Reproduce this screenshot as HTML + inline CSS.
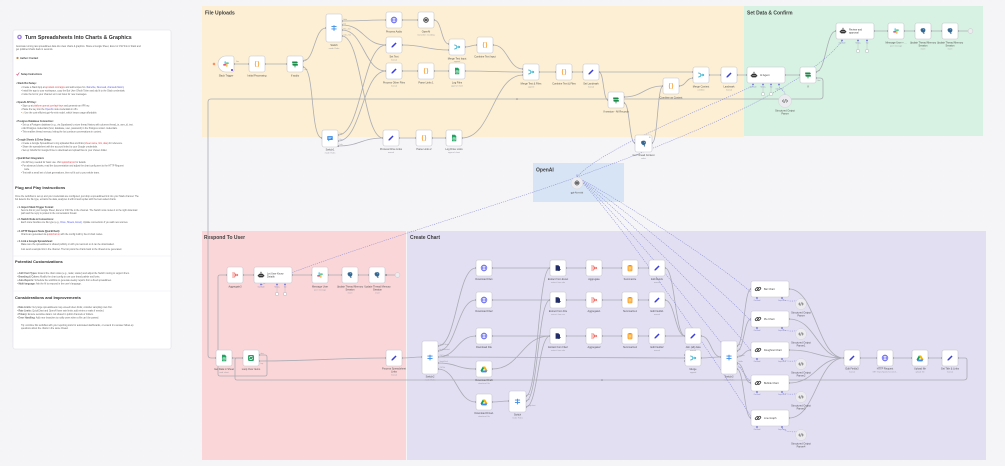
<!DOCTYPE html>
<html><head><meta charset="utf-8">
<style>
html,body{margin:0;padding:0;background:#f5f5f8;}
svg{display:block}
svg text{font-family:"Liberation Sans",sans-serif;}
.b{fill:#fff;stroke:#c6c6ce;stroke-width:.6}
.l{font-size:2.5px;fill:#555;text-anchor:middle}
.s{font-size:1.9px;fill:#9a9aa2;text-anchor:middle}
.t{font-size:5px;font-weight:bold;fill:#3f3f3f}
.c{fill:none;stroke:#abacb4;stroke-width:.8}
.d{fill:none;stroke:#8b8ed2;stroke-width:.55;stroke-dasharray:1.2 1}
.p{fill:#8c8c94}
.q{fill:#6f73d0}
.sq{fill:#fff;stroke:#a8a8b0;stroke-width:.4}
.pl{font-size:1.3px;fill:#8080b8;text-anchor:middle}
.ol{font-size:1.4px;fill:#999}
.in{font-size:2.5px;fill:#444}
.nt{font-size:2.3px;fill:#666}
.nb{font-size:2.4px;fill:#444;font-weight:bold}
.nh{font-size:4px;fill:#3a3a3a;font-weight:bold}
.r{fill:#e0454f}.u{fill:#5658e0}
</style></head>
<body>
<svg width="1005" height="466" viewBox="0 0 1005 466" xmlns="http://www.w3.org/2000/svg">
<defs>
<pattern id="grid" width="10" height="10" patternUnits="userSpaceOnUse"><circle cx="1" cy="1" r=".35" fill="#e3e3ea"/></pattern>
<symbol id="pen" viewBox="0 0 10 10"><path d="M1.8 8.2 L2.1 6.6 L6.9 1.8 L8.2 3.1 L3.4 7.9 Z" fill="#3b3fd8"/></symbol>
<symbol id="glb" viewBox="0 0 10 10"><g fill="none" stroke="#5a5cf0" stroke-width=".8"><circle cx="5" cy="5" r="3.6"/><ellipse cx="5" cy="5" rx="1.6" ry="3.6"/><path d="M1.4 5H8.6"/></g></symbol>
<symbol id="cod" viewBox="0 0 10 10"><g fill="none" stroke="#f5941f" stroke-width=".9" stroke-linecap="round"><path d="M4 1.8 Q3 1.8 3 2.8 V4.2 Q3 5 2.2 5 Q3 5 3 5.8 V7.2 Q3 8.2 4 8.2"/><path d="M6 1.8 Q7 1.8 7 2.8 V4.2 Q7 5 7.8 5 Q7 5 7 5.8 V7.2 Q7 8.2 6 8.2"/></g></symbol>
<symbol id="swi" viewBox="0 0 10 10"><g fill="none" stroke="#3d8de8" stroke-width="1.1"><path d="M1.8 3.2H8.2M1.8 6.2H8.2M5 1.6V8.6"/></g></symbol>
<symbol id="msg" viewBox="0 0 10 10"><path d="M1.6 2H8.4V6.8H4.6L2.8 8.4V6.8H1.6Z" fill="#3d8de8"/><path d="M3 3.6H7M3 5.2H6" stroke="#fff" stroke-width=".6"/></symbol>
<symbol id="iff" viewBox="0 0 10 10"><g fill="#1d8a4a"><path d="M1.5 1.8H7.5L8.6 3L7.5 4.2H1.5Z"/><path d="M2.5 4.8H8.5V7H2.5L1.4 5.9Z"/><rect x="4.5" y="6.8" width="1" height="2.4"/></g></symbol>
<symbol id="mrg" viewBox="0 0 10 10"><g fill="none" stroke="#1ea6c6" stroke-width=".9"><path d="M1.5 2.5 Q4.5 2.5 5 5 Q4.5 7.5 1.5 7.5M5 5H8.5M7 3.6L8.5 5L7 6.4"/></g></symbol>
<symbol id="sht" viewBox="0 0 10 10"><path d="M2.5 1H6.2L7.8 2.6V9H2.5Z" fill="#21a362"/><path d="M3.6 4.5H6.7V7.6H3.6ZM3.6 6H6.7M5.1 4.5V7.6" fill="none" stroke="#fff" stroke-width=".5"/></symbol>
<symbol id="pg" viewBox="0 0 10 10"><path d="M2 3.5 Q2 1.5 4.5 1.5 Q8 1.2 8 4 Q8 6 6.5 6.5 L6.8 8.8 L5.6 8.8 L5.3 6.8 Q3.5 7 3 6 Q2 5.5 2 3.5Z" fill="#336791"/><circle cx="6" cy="3.4" r=".45" fill="#fff"/></symbol>
<symbol id="slk" viewBox="0 0 10 10"><rect x="3.2" y="1.5" width="1.5" height="3.6" rx=".75" fill="#36c5f0"/><rect x="4.9" y="3.2" width="3.6" height="1.5" rx=".75" fill="#2eb67d"/><rect x="5.3" y="4.9" width="1.5" height="3.6" rx=".75" fill="#ecb22e"/><rect x="1.5" y="5.3" width="3.6" height="1.5" rx=".75" fill="#e01e5a"/></symbol>
<symbol id="oai" viewBox="0 0 10 10"><g fill="none" stroke="#333" stroke-width=".8"><circle cx="5" cy="5" r="3"/><path d="M5 2 L5 8 M2.4 3.5 L7.6 6.5 M2.4 6.5 L7.6 3.5"/></g></symbol>
<symbol id="bot" viewBox="0 0 10 10"><g fill="#333"><rect x="2" y="3.5" width="6" height="4.5" rx="1.2"/><rect x="4.6" y="1.6" width=".8" height="2"/><circle cx="5" cy="1.6" r=".6"/><rect x="1" y="4.8" width="1.2" height="2" rx=".4"/><rect x="7.8" y="4.8" width="1.2" height="2" rx=".4"/></g><circle cx="3.8" cy="5.6" r=".6" fill="#fff"/><circle cx="6.2" cy="5.6" r=".6" fill="#fff"/></symbol>
<symbol id="agg" viewBox="0 0 10 10"><g fill="none" stroke="#f0574e" stroke-width=".9"><path d="M1.5 2.5H4.5L6 5L4.5 7.5H1.5M1.5 5H8.5M7.2 3.8L8.5 5L7.2 6.2"/></g></symbol>
<symbol id="sum" viewBox="0 0 10 10"><rect x="2.3" y="1.8" width="5.4" height="7" rx=".8" fill="#ffb23f" stroke="#f08a17" stroke-width=".5"/><rect x="3.8" y="1.2" width="2.4" height="1.3" rx=".4" fill="#f08a17"/><path d="M3.5 4.5H6.5M3.5 6H6.5M3.5 7.5H5.5" stroke="#fff" stroke-width=".5"/></symbol>
<symbol id="ext" viewBox="0 0 10 10"><path d="M2 1.5H5.5L7.5 3.5V8.5H2Z" fill="#232e68"/><path d="M5 5 L8.8 7 L5 8.8 Z" fill="#232e68"/></symbol>
<symbol id="drv" viewBox="0 0 10 10"><path d="M3.6 1.8H6.4L9.3 6.8H6.5Z" fill="#f4b400"/><path d="M3.6 1.8L0.7 6.8L2.1 9.2L5 4.2Z" fill="#0f9d58"/><path d="M2.1 9.2H7.9L9.3 6.8H3.5Z" fill="#4285f4"/></symbol>
<symbol id="lnk" viewBox="0 0 10 10"><g fill="none" stroke="#3a3a3a" stroke-width="1"><rect x="1.3" y="3.8" width="4.6" height="2.6" rx="1.3" transform="rotate(-45 3.6 5.1)"/><rect x="4.1" y="3.6" width="4.6" height="2.6" rx="1.3" transform="rotate(-45 6.4 4.9)"/></g></symbol>
<symbol id="lop" viewBox="0 0 10 10"><rect x="1.3" y="1.3" width="7.4" height="7.4" rx="1.6" fill="#2a9d63"/><g fill="none" stroke="#fff" stroke-width=".8"><path d="M3 5 A2 2 0 0 1 6.6 3.8M7 5 A2 2 0 0 1 3.4 6.2"/></g><path d="M6 2.8L7.3 3.6L6.3 4.6Z M4 7.2L2.7 6.4L3.7 5.4Z" fill="#fff"/></symbol>
<symbol id="par" viewBox="0 0 10 10"><g fill="none" stroke="#555" stroke-width=".8"><path d="M3.5 3.2L1.8 5L3.5 6.8M6.5 3.2L8.2 5L6.5 6.8M5.6 2.8L4.4 7.2"/></g></symbol>
</defs>

<rect width="1005" height="466" fill="#f5f5f8"/>
<rect width="1005" height="466" fill="url(#grid)"/>

<!-- Sections -->
<rect x="202" y="6" width="542" height="131" fill="#fcefd3"/>
<rect x="744" y="6" width="239" height="130" fill="#d7f2e2"/>
<rect x="533" y="163" width="91" height="39" fill="#d6e4f5"/>
<rect x="202" y="231" width="204" height="229" fill="#fad6d8"/>
<rect x="407" y="231" width="579" height="229" fill="#e2dff3"/>
<text class="t" x="205" y="14.5">File Uploads</text>
<text class="t" x="747" y="14.5">Set Data &amp; Confirm</text>
<text class="t" x="536" y="171.5">OpenAI</text>
<text class="t" x="204" y="239">Respond To User</text>
<text class="t" x="410" y="239">Create Chart</text>

<!-- Sticky note -->
<rect x="13" y="30" width="158" height="319" rx="2" fill="#fff" stroke="#dfe0e7" stroke-width=".6"/>
<circle cx="19.5" cy="37" r="2.3" fill="#9b7fe0"/><circle cx="19.5" cy="37" r="1" fill="#fff"/>
<text x="25" y="39" style="font-size:5.3px;fill:#333;font-weight:600">Turn Spreadsheets Into Charts &amp; Graphics</text>
<text class="nt" x="16" y="47">Automate turning raw spreadsheet data into clear charts &amp; graphics. Share a Google Sheet, Excel or CSV link in Slack and</text>
<text class="nt" x="16" y="50">get polished charts back in seconds.</text>
<circle cx="17.5" cy="58" r="1.1" fill="#c98a4b"/>
<text class="nb" x="20" y="59">Author: Contact</text>
<path d="M16.5 74 L17.5 75.2 L19.3 72.6" fill="none" stroke="#e0457f" stroke-width=".6"/>
<text class="nb" x="21" y="75">Setup Instructions</text>

<text class="nb" x="16" y="84">• Slack Bot Setup:</text>
<text class="nt" x="21" y="88">• Create a Slack App at <tspan class="r">api.slack.com/apps</tspan> and add scopes for <tspan class="u">chat:write, files:read, channels:history</tspan></text>
<text class="nt" x="21" y="91.5">• Install the app to your workspace, copy the Bot User OAuth Token and add it to the Slack credentials.</text>
<text class="nt" x="21" y="95">• Invite the bot to your channel so it can listen for new messages.</text>
<text class="nb" x="16" y="103">• OpenAI API Key:</text>
<text class="nt" x="21" y="106.5">• Sign up at <tspan class="r">platform.openai.com/api-keys</tspan> and generate an API key.</text>
<text class="nt" x="21" y="110">• Paste the key into the <tspan class="u">OpenAI</tspan> node credentials in n8n.</text>
<text class="nt" x="21" y="113.5">• <tspan fill="#e8a23a">●</tspan> Use the cost-efficient gpt-4o-mini model, which keeps usage affordable.</text>
<text class="nb" x="16" y="122">• Postgres Database Connection:</text>
<text class="nt" x="21" y="125.5">• Set up a Postgres database (e.g., via Supabase) to store thread history with columns thread_ts, user_id, text.</text>
<text class="nt" x="21" y="129">• Add Postgres credentials (host, database, user, password) in the Postgres nodes' credentials.</text>
<text class="nt" x="21" y="132.5">• This enables thread memory, letting the bot continue conversations in context.</text>
<text class="nb" x="16" y="140.5">• Google Sheets &amp; Drive Setup:</text>
<text class="nt" x="21" y="144">• Create a Google Spreadsheet to log uploaded files and links (<tspan class="r">sheet name, link, date</tspan>) for reference.</text>
<text class="nt" x="21" y="147.5">• Share the spreadsheet with the account linked to your Google credentials.</text>
<text class="nt" x="21" y="151">• Set up OAuth2 for Google Drive to download and upload files to your chosen folder.</text>
<text class="nb" x="16" y="159">• QuickChart Integration:</text>
<text class="nt" x="21" y="163">• No API key needed for basic use. Visit <tspan class="r">quickchart.io</tspan> for details.</text>
<text class="nt" x="21" y="166.5">• For advanced charts, read the documentation and adjust the chart config sent to the HTTP Request</text>
<text class="nt" x="24" y="170">node.</text>
<text class="nt" x="21" y="173.5">• Test with a small set of chart generations, then roll it out to your whole team.</text>

<text class="nh" x="15" y="189">Plug and Play Instructions</text>
<text class="nt" x="15" y="197">Once the workflow is set up and your credentials are configured, just drop a spreadsheet link into your Slack channel. The</text>
<text class="nt" x="15" y="200">bot detects the file type, extracts the data, analyzes it with AI and replies with the best-suited charts.</text>
<text class="nb" x="17" y="208">• 1. Import Slack Trigger Format:</text>
<text class="nt" x="21" y="211">Send a link to your Google Sheet, Excel or CSV file in the channel. The Switch node routes it to the right download</text>
<text class="nt" x="21" y="214">path and the reply is posted in the conversation thread.</text>
<text class="nb" x="17" y="220">• 2. Switch Node &amp; Connections:</text>
<text class="nt" x="21" y="223">Each route handles one file type (e.g., <tspan class="u">Drive, Sheets, Excel</tspan>). Update connections if you add new sources.</text>
<text class="nb" x="17" y="232">• 3. HTTP Request Node (QuickChart):</text>
<text class="nt" x="21" y="235">Charts are generated via <tspan class="r">quickchart.io</tspan> with the config built by the AI chart nodes.</text>
<text class="nb" x="17" y="242">• 4. Link a Google Spreadsheet:</text>
<text class="nt" x="21" y="245">Make sure the spreadsheet is shared publicly or with your account so it can be downloaded.</text>
<text class="nt" x="21" y="250">Just send a sample link in the channel. The bot posts the charts back to the thread once generated.</text>
<line x1="13.5" y1="256" x2="170.5" y2="256" stroke="#ececf1" stroke-width=".5"/>
<text class="nh" x="15" y="263">Potential Customizations</text>
<text class="nt" x="17" y="274">• <tspan font-weight="bold">Add Chart Types:</tspan> Extend the chart nodes (e.g., radar, scatter) and adjust the Switch routing to support them.</text>
<text class="nt" x="17" y="277.5">• <tspan font-weight="bold">Branding &amp; Colors:</tspan> Modify the chart config to use your brand palette and fonts.</text>
<text class="nt" x="17" y="281">• <tspan font-weight="bold">Auto-Reports:</tspan> Schedule the workflow to generate weekly reports from a fixed spreadsheet.</text>
<text class="nt" x="17" y="284.5">• <tspan font-weight="bold">Multi-language:</tspan> Ask the AI to respond in the user's language.</text>
<line x1="13.5" y1="291" x2="170.5" y2="291" stroke="#ececf1" stroke-width=".5"/>
<text class="nh" x="15" y="299">Considerations and Improvements</text>
<text class="nt" x="17" y="308">• <tspan font-weight="bold">Data Limits:</tspan> Very large spreadsheets may exceed token limits; consider sampling rows first.</text>
<text class="nt" x="17" y="311.5">• <tspan font-weight="bold">Rate Limits:</tspan> QuickChart and OpenAI have rate limits; add retries or waits if needed.</text>
<text class="nt" x="17" y="315">• <tspan font-weight="bold">Privacy:</tspan> Ensure sensitive data is not shared in public channels or folders.</text>
<text class="nt" x="17" y="318.5">• <tspan font-weight="bold">Error Handling:</tspan> Add error branches to notify users when a file can't be parsed.</text>
<text class="nt" x="21" y="326">Tip: combine this workflow with your reporting tools for automated dashboards, or extend it to answer follow-up</text>
<text class="nt" x="21" y="329">questions about the charts in the same thread.</text>

<!-- Solid connections -->
<g class="c">
<path d="M234 64H249M265 64H287"/>
<path d="M303 61C315 61 314 28 326 28"/>
<path d="M303 67C315 67 310 138 322 138"/>
<path d="M342 21C364 21 364 20 386 20"/>
<path d="M342 25C364 25 364 45 386 45"/>
<path d="M342 30C364 30 364 71 386 71"/>
<path d="M342 36C362 36 363 138 383 138"/>
<path d="M338 135C362 135 362 45 386 45"/>
<path d="M338 141C362 141 362 71 386 71"/>
<path d="M338 146C360 146 361 138 383 138"/>
<path d="M402 20H418"/>
<path d="M434 20C442 20 441 44 449 44"/>
<path d="M402 45C425 45 426 50 449 50"/>
<path d="M465 47C471 47 471 45 477 45"/>
<path d="M493 45C508 45 508 69 523 69"/>
<path d="M402 71H418M434 71H449"/>
<path d="M465 71C494 71 494 72 523 72"/>
<path d="M399 138H416M432 138H446"/>
<path d="M462 138C492 138 493 75 523 75"/>
<path d="M539 72H556M572 72H583M599 72H693"/>
<path d="M599 72C604 72 603 100 608 100"/>
<path d="M624 97C643 97 644 86 663 86"/>
<path d="M624 103C630 103 629 143 635 143"/>
<path d="M652 143C658 143 657 86 663 86"/>
<path d="M679 86C686 86 686 78 693 78"/>
<path d="M709 75H721M737 75H747M785 75H800"/>
<path d="M816 72C826 72 826 31 836 31"/>
<path d="M816 78H820Q823 78 823 81V96Q823 99 820 99H211Q208 99 208 102V355Q208 358 211 358H216"/>
<path d="M874 31H888M904 31H915M931 31H942M958 31H968"/>
<path d="M243 275H254M292 275H312M328 275H342M358 275H369M386 275H395"/>
<path d="M232 358H243"/>
<path d="M259 355H265Q267 355 267 357V374Q267 376 265 376H220Q218 376 218 374V277Q218 275 220 275H227"/>
<path d="M259 361C320 361 330 358 386 358"/>
<path d="M958 358H965Q967 358 967 360V377Q967 380 964 380H237Q235 380 235 378V360Q235 358 237 358H243"/>
<path d="M402 358C412 358 412 357 422 357"/>
<path d="M438 346C457 346 457 268 476 268"/>
<path d="M438 351C457 351 457 300 476 300"/>
<path d="M438 357C457 357 457 336 476 336"/>
<path d="M438 357C560 357 560 358 685 358"/>
<path d="M438 363C457 363 457 369 476 369"/>
<path d="M438 369C457 369 457 402 476 402"/>
<path d="M492 268H550M492 300H550M492 336H550"/>
<path d="M492 369C521 369 521 336 550 336"/>
<path d="M492 402C500 402 501 401 509 401"/>
<path d="M526 396C538 396 538 268 550 268"/>
<path d="M526 401C538 401 538 300 550 300"/>
<path d="M526 407C538 407 538 336 550 336"/>
<path d="M566 268H586M602 268H622M638 268H649"/>
<path d="M566 300H586M602 300H622M638 300H649"/>
<path d="M566 336H586M602 336H622M638 336H649"/>
<path d="M665 268C675 268 675 336 685 336"/>
<path d="M665 300C675 300 675 336 685 336"/>
<path d="M665 336H685"/>
<path d="M701 336C711 336 711 357 721 357"/>
<path d="M701 358C711 358 711 357 721 357"/>
<path d="M737 346C744 346 744 289 751 289"/>
<path d="M737 351C744 351 744 319 751 319"/>
<path d="M737 357C744 357 744 350 751 350"/>
<path d="M737 363C744 363 744 383 751 383"/>
<path d="M737 369C744 369 744 418 751 418"/>
<path d="M789 289C816 289 817 358 844 358"/>
<path d="M789 319C816 319 817 358 844 358"/>
<path d="M789 350C816 350 817 358 844 358"/>
<path d="M789 383C816 383 817 358 844 358"/>
<path d="M789 418C816 418 817 358 844 358"/>
<path d="M860 358H877M893 358H912M928 358H942"/>
</g>
<circle cx="517" cy="99" r=".8" class="p"/><circle cx="602" cy="380" r=".8" class="p"/>

<!-- Dotted AI connections -->
<g class="d">
<path d="M577 177C600 150 700 110 753 86"/>
<path d="M577 177C650 150 800 95 842 41"/>
<path d="M577 177C500 205 330 255 261 285"/>
<path d="M577 177C620 200 730 270 757 298"/>
<path d="M577 177C620 205 730 295 757 328"/>
<path d="M577 177C620 210 730 320 757 359"/>
<path d="M577 177C620 215 730 350 757 392"/>
<path d="M577 177C620 220 730 380 757 427"/>
<path d="M785 94.5C785 90 779 90 779 85"/>
<path d="M801 298.5C801 302 782 302 782 298"/>
<path d="M801 328.5C801 332 782 332 782 328"/>
<path d="M801 358.5C801 362 782 362 782 359"/>
<path d="M801 391.5C801 395 782 395 782 392"/>
<path d="M801 429.5C801 433 782 433 782 427"/>
</g>

<!-- Ports -->
<g class="p">
<circle cx="234" cy="64" r="1"/><circle cx="249" cy="64" r="1"/><circle cx="265" cy="64" r="1"/><circle cx="287" cy="64" r="1"/><circle cx="303" cy="61" r="1"/><circle cx="303" cy="67" r="1"/><circle cx="326" cy="28" r="1"/><circle cx="342" cy="21" r="1"/><circle cx="342" cy="25" r="1"/><circle cx="342" cy="30" r="1"/><circle cx="342" cy="36" r="1"/><circle cx="322" cy="138" r="1"/><circle cx="338" cy="135" r="1"/><circle cx="338" cy="141" r="1"/><circle cx="338" cy="146" r="1"/>
<circle cx="386" cy="20" r="1"/><circle cx="402" cy="20" r="1"/><circle cx="418" cy="20" r="1"/><circle cx="434" cy="20" r="1"/><circle cx="386" cy="45" r="1"/><circle cx="402" cy="45" r="1"/><circle cx="449" cy="44" r="1"/><circle cx="449" cy="50" r="1"/><circle cx="465" cy="47" r="1"/><circle cx="477" cy="45" r="1"/><circle cx="493" cy="45" r="1"/>
<circle cx="386" cy="71" r="1"/><circle cx="402" cy="71" r="1"/><circle cx="418" cy="71" r="1"/><circle cx="434" cy="71" r="1"/><circle cx="449" cy="71" r="1"/><circle cx="465" cy="71" r="1"/><circle cx="523" cy="69" r="1"/><circle cx="523" cy="72" r="1"/><circle cx="523" cy="75" r="1"/><circle cx="539" cy="72" r="1"/><circle cx="556" cy="72" r="1"/><circle cx="572" cy="72" r="1"/><circle cx="583" cy="72" r="1"/><circle cx="599" cy="72" r="1"/><circle cx="608" cy="100" r="1"/><circle cx="624" cy="97" r="1"/><circle cx="624" cy="103" r="1"/><circle cx="663" cy="86" r="1"/><circle cx="679" cy="86" r="1"/><circle cx="693" cy="72" r="1"/><circle cx="693" cy="78" r="1"/><circle cx="709" cy="75" r="1"/><circle cx="721" cy="75" r="1"/><circle cx="737" cy="75" r="1"/><circle cx="747" cy="75" r="1"/><circle cx="785" cy="75" r="1"/><circle cx="800" cy="75" r="1"/><circle cx="816" cy="72" r="1"/><circle cx="816" cy="78" r="1"/><circle cx="635" cy="143" r="1"/><circle cx="652" cy="143" r="1"/>
<circle cx="383" cy="138" r="1"/><circle cx="399" cy="138" r="1"/><circle cx="416" cy="138" r="1"/><circle cx="432" cy="138" r="1"/><circle cx="446" cy="138" r="1"/><circle cx="462" cy="138" r="1"/>
<circle cx="836" cy="31" r="1"/><circle cx="874" cy="31" r="1"/><circle cx="888" cy="31" r="1"/><circle cx="904" cy="31" r="1"/><circle cx="915" cy="31" r="1"/><circle cx="931" cy="31" r="1"/><circle cx="942" cy="31" r="1"/><circle cx="958" cy="31" r="1"/>
<circle cx="227" cy="275" r="1"/><circle cx="243" cy="275" r="1"/><circle cx="254" cy="275" r="1"/><circle cx="292" cy="275" r="1"/><circle cx="312" cy="275" r="1"/><circle cx="328" cy="275" r="1"/><circle cx="342" cy="275" r="1"/><circle cx="358" cy="275" r="1"/><circle cx="369" cy="275" r="1"/><circle cx="386" cy="275" r="1"/>
<circle cx="216" cy="358" r="1"/><circle cx="232" cy="358" r="1"/><circle cx="243" cy="358" r="1"/><circle cx="259" cy="355" r="1"/><circle cx="259" cy="361" r="1"/><circle cx="386" cy="358" r="1"/><circle cx="402" cy="358" r="1"/>
<circle cx="422" cy="357" r="1"/><circle cx="438" cy="346" r="1"/><circle cx="438" cy="351" r="1"/><circle cx="438" cy="357" r="1"/><circle cx="438" cy="363" r="1"/><circle cx="438" cy="369" r="1"/>
<circle cx="476" cy="268" r="1"/><circle cx="492" cy="268" r="1"/><circle cx="476" cy="300" r="1"/><circle cx="492" cy="300" r="1"/><circle cx="476" cy="336" r="1"/><circle cx="492" cy="336" r="1"/><circle cx="476" cy="369" r="1"/><circle cx="492" cy="369" r="1"/><circle cx="476" cy="402" r="1"/><circle cx="492" cy="402" r="1"/>
<circle cx="509" cy="401" r="1"/><circle cx="526" cy="396" r="1"/><circle cx="526" cy="401" r="1"/><circle cx="526" cy="407" r="1"/>
<circle cx="550" cy="268" r="1"/><circle cx="566" cy="268" r="1"/><circle cx="586" cy="268" r="1"/><circle cx="602" cy="268" r="1"/><circle cx="622" cy="268" r="1"/><circle cx="638" cy="268" r="1"/><circle cx="649" cy="268" r="1"/><circle cx="665" cy="268" r="1"/>
<circle cx="550" cy="300" r="1"/><circle cx="566" cy="300" r="1"/><circle cx="586" cy="300" r="1"/><circle cx="602" cy="300" r="1"/><circle cx="622" cy="300" r="1"/><circle cx="638" cy="300" r="1"/><circle cx="649" cy="300" r="1"/><circle cx="665" cy="300" r="1"/>
<circle cx="550" cy="336" r="1"/><circle cx="566" cy="336" r="1"/><circle cx="586" cy="336" r="1"/><circle cx="602" cy="336" r="1"/><circle cx="622" cy="336" r="1"/><circle cx="638" cy="336" r="1"/><circle cx="649" cy="336" r="1"/><circle cx="665" cy="336" r="1"/>
<circle cx="685" cy="336" r="1"/><circle cx="701" cy="336" r="1"/><circle cx="685" cy="355" r="1"/><circle cx="685" cy="358" r="1"/><circle cx="685" cy="361" r="1"/><circle cx="701" cy="358" r="1"/>
<circle cx="721" cy="357" r="1"/><circle cx="737" cy="346" r="1"/><circle cx="737" cy="351" r="1"/><circle cx="737" cy="357" r="1"/><circle cx="737" cy="363" r="1"/><circle cx="737" cy="369" r="1"/>
<circle cx="751" cy="289" r="1"/><circle cx="789" cy="289" r="1"/><circle cx="751" cy="319" r="1"/><circle cx="789" cy="319" r="1"/><circle cx="751" cy="350" r="1"/><circle cx="789" cy="350" r="1"/><circle cx="751" cy="383" r="1"/><circle cx="789" cy="383" r="1"/><circle cx="751" cy="418" r="1"/><circle cx="789" cy="418" r="1"/>
<circle cx="844" cy="358" r="1"/><circle cx="860" cy="358" r="1"/><circle cx="877" cy="358" r="1"/><circle cx="893" cy="358" r="1"/><circle cx="912" cy="358" r="1"/><circle cx="928" cy="358" r="1"/><circle cx="942" cy="358" r="1"/><circle cx="958" cy="358" r="1"/>
</g>

<!-- Output labels -->
<g class="ol">
<text x="236" y="62">Data</text>
<text x="304.5" y="60">true</text><text x="304.5" y="70">false</text>
<text x="343.5" y="20">Audio</text><text x="343.5" y="24.3">Text</text><text x="343.5" y="29.3">Files + Text</text><text x="343.5" y="35.3">Links + Text</text>
<text x="339.5" y="134">Text</text><text x="339.5" y="140">Files</text><text x="339.5" y="145">Links</text>
<text x="439.5" y="345">Google Sheets</text><text x="439.5" y="350">Excel Download</text><text x="439.5" y="356">CSV Download</text><text x="439.5" y="362">Google Excel</text><text x="439.5" y="368">CSV File</text>
<text x="527.5" y="395">xlsx</text><text x="527.5" y="400">csv</text><text x="527.5" y="406">google sheet</text>
<text x="738.5" y="345">Bar</text><text x="738.5" y="350">Pie</text><text x="738.5" y="356">Doughnut</text><text x="738.5" y="362">Bubble</text><text x="738.5" y="368">Line</text>
<text x="817.5" y="71">true</text><text x="817.5" y="81">false</text>
<text x="260.5" y="354">done</text><text x="260.5" y="364">loop</text>
</g>

<!-- Trigger -->
<path d="M212.5 64H215.5M214 62.5V65.5M213 63L215 65M215 63L213 65" stroke="#ff6d3a" stroke-width=".5"/>
<path d="M226 56H232A2 2 0 0 1 234 58V70A2 2 0 0 1 232 72H226A8 8 0 0 1 226 56Z" class="b"/>
<use href="#slk" x="222" y="60" width="8" height="8"/>
<rect x="231" y="69" width="2" height="2" rx=".4" fill="#7b5fd6"/>

<!-- File Uploads nodes -->
<g>
<g transform="translate(249,56)"><rect class="b" width="16" height="16" rx="2"/><use href="#cod" x="4" y="4" width="8" height="8"/></g>
<g transform="translate(287,56)"><rect class="b" width="16" height="16" rx="2"/><use href="#iff" x="4" y="4" width="8" height="8"/></g>
<g transform="translate(326,14)"><rect class="b" width="16" height="28" rx="2"/><use href="#swi" x="4" y="10" width="8" height="8"/></g>
<g transform="translate(386,12)"><rect class="b" width="16" height="16" rx="2"/><use href="#glb" x="4" y="4" width="8" height="8"/></g>
<g transform="translate(418,12)"><rect class="b" width="16" height="16" rx="2"/><use href="#oai" x="4" y="4" width="8" height="8"/></g>
<g transform="translate(386,37)"><rect class="b" width="16" height="16" rx="2"/><use href="#pen" x="4" y="4" width="8" height="8"/></g>
<g transform="translate(449,39)"><rect class="b" width="16" height="16" rx="2"/><use href="#mrg" x="4" y="4" width="8" height="8"/></g>
<g transform="translate(477,37)"><rect class="b" width="16" height="16" rx="2"/><use href="#cod" x="4" y="4" width="8" height="8"/></g>
<g transform="translate(386,63)"><rect class="b" width="16" height="16" rx="2"/><use href="#pen" x="4" y="4" width="8" height="8"/></g>
<g transform="translate(418,63)"><rect class="b" width="16" height="16" rx="2"/><use href="#cod" x="4" y="4" width="8" height="8"/></g>
<g transform="translate(449,63)"><rect class="b" width="16" height="16" rx="2"/><use href="#sht" x="4" y="4" width="8" height="8"/></g>
<g transform="translate(523,64)"><rect class="b" width="16" height="16" rx="2"/><use href="#mrg" x="4" y="4" width="8" height="8"/></g>
<g transform="translate(556,64)"><rect class="b" width="16" height="16" rx="2"/><use href="#cod" x="4" y="4" width="8" height="8"/></g>
<g transform="translate(583,64)"><rect class="b" width="16" height="16" rx="2"/><use href="#pen" x="4" y="4" width="8" height="8"/></g>
<g transform="translate(608,92)"><rect class="b" width="16" height="16" rx="2"/><use href="#iff" x="4" y="4" width="8" height="8"/></g>
<g transform="translate(663,78)"><rect class="b" width="16" height="16" rx="2"/><use href="#cod" x="4" y="4" width="8" height="8"/></g>
<g transform="translate(693,67)"><rect class="b" width="16" height="16" rx="2"/><use href="#mrg" x="4" y="4" width="8" height="8"/></g>
<g transform="translate(721,67)"><rect class="b" width="16" height="16" rx="2"/><use href="#pen" x="4" y="4" width="8" height="8"/></g>
<g transform="translate(322,130)"><rect class="b" width="16" height="17" rx="2"/><use href="#msg" x="4" y="4.5" width="8" height="8"/></g>
<g transform="translate(383,130)"><rect class="b" width="16" height="16" rx="2"/><use href="#pen" x="4" y="4" width="8" height="8"/></g>
<g transform="translate(416,130)"><rect class="b" width="16" height="16" rx="2"/><use href="#cod" x="4" y="4" width="8" height="8"/></g>
<g transform="translate(446,130)"><rect class="b" width="16" height="16" rx="2"/><use href="#sht" x="4" y="4" width="8" height="8"/></g>
<g transform="translate(635,135)"><rect class="b" width="17" height="17" rx="2"/><use href="#pg" x="4.5" y="4.5" width="8" height="8"/><text x="14.2" y="3" style="font-size:2px;fill:#666">8</text></g>
</g>
<g>
<text class="l" x="226" y="76.5">Slack Trigger</text>
<text class="l" x="257" y="76.5">Initial Processing</text>
<text class="l" x="295" y="76.5">If audio</text>
<text class="l" x="334" y="46">Switch</text><text class="s" x="334" y="49">mode: Rules</text>
<text class="l" x="394" y="32.5">Process Audio</text>
<text class="l" x="426" y="32.5">OpenAI</text><text class="s" x="426" y="35.5">transcribe: recording</text>
<text class="l" x="394" y="57.5">Set Text</text><text class="s" x="394" y="60.5">manual</text>
<text class="l" x="457" y="59.5">Merge Text Input</text><text class="s" x="457" y="62">append</text>
<text class="l" x="485" y="57.5">Combine Text Input</text>
<text class="l" x="394" y="83.5">Process Other Files</text><text class="s" x="394" y="86.5">manual</text>
<text class="l" x="426" y="83.5">Parse Links 1</text>
<text class="l" x="457" y="83.5">Log Files</text><text class="s" x="457" y="86.5">append: sheet</text>
<text class="l" x="531" y="84.5">Merge Text &amp; Files</text><text class="s" x="531" y="87.5">append</text>
<text class="l" x="564" y="84.5">Combine Text &amp; Files</text>
<text class="l" x="591" y="84.5">Set Landmark</text><text class="s" x="591" y="87.5">manual</text>
<text class="l" x="616" y="112.5">If session - All Records</text>
<text class="l" x="671" y="98.5">Combine as Context</text>
<text class="l" x="701" y="87.5">Merge Context</text><text class="s" x="701" y="90.5">combine</text>
<text class="l" x="729" y="87.5">Landmark</text><text class="s" x="729" y="90.5">manual</text>
<text class="l" x="330" y="150.5">Switch1</text><text class="s" x="330" y="153.5">mode: Rules</text>
<text class="l" x="391" y="150">Process Drive Links</text><text class="s" x="391" y="153">manual</text>
<text class="l" x="424" y="150">Parse Links 2</text>
<text class="l" x="454" y="150">Log Drive Links</text><text class="s" x="454" y="153">append: sheet</text>
<text class="l" x="643.5" y="156">Get Thread Context</text><text class="s" x="643.5" y="159">select</text>
</g>

<!-- Set Data & Confirm -->
<g transform="translate(747,67)"><rect class="b" width="38" height="16" rx="2"/><use href="#bot" x="3" y="4" width="8" height="8"/><text class="in" x="13" y="9">AI Agent</text></g>
<g class="q"><circle cx="753" cy="84.5" r=".9"/><circle cx="763" cy="84.5" r=".9"/><circle cx="771" cy="84.5" r=".9"/><circle cx="779" cy="84.5" r=".9"/></g>
<path d="M763 85.5V92.7M771 85.5V92.7" stroke="#b5b5bd" stroke-width=".4"/>
<rect class="sq" x="761.6" y="92.7" width="2.8" height="2.8" rx=".4"/><rect class="sq" x="769.6" y="92.7" width="2.8" height="2.8" rx=".4"/>
<text class="pl" x="753" y="87.5">Chat Model</text><text class="pl" x="763" y="87.5">Memory</text><text class="pl" x="771" y="87.5">Tool</text><text class="pl" x="779.5" y="89.5">Output Parser</text>
<circle cx="785" cy="101" r="6.5" fill="#ececf0" stroke="#d4d4da" stroke-width=".5"/><use href="#par" x="781" y="97" width="8" height="8"/>
<text class="l" x="785" y="111.5">Structured Output</text><text class="l" x="785" y="114.5">Parser</text>
<g transform="translate(800,67)"><rect class="b" width="16" height="16" rx="2"/><use href="#iff" x="4" y="4" width="8" height="8"/></g>
<text class="l" x="808" y="87.5">If</text>
<g transform="translate(836,23)"><rect class="b" width="38" height="16" rx="2"/><use href="#bot" x="3" y="4" width="8" height="8"/><text class="in" x="13" y="7.3">Review and</text><text class="in" x="13" y="10.6">approval</text></g>
<g class="q"><circle cx="842" cy="40.5" r=".9"/><circle cx="858" cy="40.5" r=".9"/><circle cx="867" cy="40.5" r=".9"/></g>
<path d="M858 41.5V49.6M867 41.5V49.6" stroke="#b5b5bd" stroke-width=".4"/>
<rect class="sq" x="856.6" y="49.6" width="2.8" height="2.8" rx=".4"/><rect class="sq" x="865.6" y="49.6" width="2.8" height="2.8" rx=".4"/>
<text class="pl" x="842" y="43.5">Chat Model</text><text class="pl" x="858" y="43.5">Memory</text><text class="pl" x="867" y="43.5">Tool</text>
<g transform="translate(888,23)"><rect class="b" width="16" height="16" rx="2"/><use href="#slk" x="4" y="4" width="8" height="8"/></g>
<g transform="translate(915,23)"><rect class="b" width="16" height="16" rx="2"/><use href="#pg" x="4" y="4" width="8" height="8"/></g>
<g transform="translate(942,23)"><rect class="b" width="16" height="16" rx="2"/><use href="#pg" x="4" y="4" width="8" height="8"/></g>
<circle cx="970.5" cy="31" r="2.4" fill="#ededf0" stroke="#c6c6ce" stroke-width=".5"/>
<text class="l" x="896" y="43.5">Message User + ...</text><text class="s" x="896" y="46.3">post: message</text>
<text class="l" x="923" y="43.5">Update Thread Memory</text><text class="l" x="923" y="46.3">Session</text><text class="s" x="923" y="49.3">insert</text>
<text class="l" x="950" y="43.5">Update Thread Memory</text><text class="l" x="950" y="46.3">Session</text><text class="s" x="950" y="49.3">insert</text>

<!-- OpenAI model -->
<circle cx="577" cy="183" r="6" fill="#ececf0" stroke="#d4d4da" stroke-width=".5"/>
<use href="#oai" x="573.5" y="179.5" width="7" height="7"/>
<path d="M577 174.5V176.5" stroke="#6f73d0" stroke-width=".6"/>
<text class="l" x="577" y="193.5">gpt-4o-mini</text>

<!-- Respond To User -->
<g transform="translate(227,267)"><rect class="b" width="16" height="16" rx="2"/><use href="#agg" x="4" y="4" width="8" height="8"/></g>
<g transform="translate(254,267)"><rect class="b" width="38" height="16" rx="2"/><use href="#bot" x="3" y="4" width="8" height="8"/><text class="in" x="13" y="7.3">Let User Know</text><text class="in" x="13" y="10.6">Details</text></g>
<g class="q"><circle cx="261" cy="284.5" r=".9"/><circle cx="277" cy="284.5" r=".9"/><circle cx="285" cy="284.5" r=".9"/></g>
<path d="M277 285.5V292.6M285 285.5V292.6" stroke="#b5b5bd" stroke-width=".4"/>
<rect class="sq" x="275.6" y="292.6" width="2.8" height="2.8" rx=".4"/><rect class="sq" x="283.6" y="292.6" width="2.8" height="2.8" rx=".4"/>
<text class="pl" x="261" y="287.5">Chat Model</text><text class="pl" x="277" y="287.5">Memory</text><text class="pl" x="285" y="287.5">Tool</text>
<g transform="translate(312,267)"><rect class="b" width="16" height="16" rx="2"/><use href="#slk" x="4" y="4" width="8" height="8"/></g>
<g transform="translate(342,267)"><rect class="b" width="16" height="16" rx="2"/><use href="#pg" x="4" y="4" width="8" height="8"/></g>
<g transform="translate(369,267)"><rect class="b" width="16" height="16" rx="2"/><use href="#pg" x="4" y="4" width="8" height="8"/></g>
<circle cx="397.5" cy="275" r="2.4" fill="#ededf0" stroke="#c6c6ce" stroke-width=".5"/>
<text class="l" x="235" y="287.5">Aggregate3</text>
<text class="l" x="320" y="287.5">Message User</text><text class="s" x="320" y="290.5">post: message</text>
<text class="l" x="350" y="287.5">Update Thread Memory</text><text class="l" x="350" y="290.3">Session</text><text class="s" x="350" y="293.3">insert</text>
<text class="l" x="377.5" y="287.5">Update Thread Memory</text><text class="l" x="377.5" y="290.3">Session</text><text class="s" x="377.5" y="293.3">insert</text>
<g transform="translate(216,350)"><rect class="b" width="16" height="16" rx="2"/><use href="#sht" x="4" y="4" width="8" height="8"/></g>
<g transform="translate(243,350)"><rect class="b" width="16" height="16" rx="2"/><use href="#lop" x="4" y="4" width="8" height="8"/></g>
<g transform="translate(386,350)"><rect class="b" width="16" height="16" rx="2"/><use href="#pen" x="4" y="4" width="8" height="8"/></g>
<text class="l" x="224" y="370">Get Data in Sheet</text><text class="s" x="224" y="373">read: sheet</text>
<text class="l" x="251" y="370">Loop Over Items</text>
<text class="l" x="394" y="369.5">Process Spreadsheet</text><text class="l" x="394" y="372.3">Links</text><text class="s" x="394" y="375.3">manual</text>

<!-- Create Chart -->
<g transform="translate(422,341)"><rect class="b" width="16" height="33" rx="2"/><use href="#swi" x="4" y="12.5" width="8" height="8"/></g>
<text class="l" x="430" y="377.5">Switch2</text><text class="s" x="430" y="380.5">mode: Rules</text>
<g transform="translate(476,260)"><rect class="b" width="16" height="16" rx="2"/><use href="#glb" x="4" y="4" width="8" height="8"/></g>
<g transform="translate(476,292)"><rect class="b" width="16" height="16" rx="2"/><use href="#glb" x="4" y="4" width="8" height="8"/></g>
<g transform="translate(476,328)"><rect class="b" width="16" height="16" rx="2"/><use href="#glb" x="4" y="4" width="8" height="8"/></g>
<g transform="translate(476,361)"><rect class="b" width="16" height="16" rx="2"/><use href="#drv" x="4" y="4" width="8" height="8"/></g>
<g transform="translate(476,394)"><rect class="b" width="16" height="16" rx="2"/><use href="#drv" x="4" y="4" width="8" height="8"/></g>
<text class="l" x="484" y="280">Download File1</text>
<text class="l" x="484" y="312">Download File2</text>
<text class="l" x="484" y="348">Download File</text>
<text class="l" x="484" y="381">Download Draft</text><text class="s" x="484" y="384">download: file</text>
<text class="l" x="484" y="414">Download Drive1</text><text class="s" x="484" y="417">download: file</text>
<g transform="translate(509,391)"><rect class="b" width="17" height="21" rx="2"/><use href="#swi" x="4.5" y="6.5" width="8" height="8"/></g>
<text class="l" x="517.5" y="415.5">Switch</text><text class="s" x="517.5" y="418.5">mode: Rules</text>
<g transform="translate(550,260)"><rect class="b" width="16" height="16" rx="2"/><use href="#ext" x="4" y="4" width="8" height="8"/></g>
<g transform="translate(550,292)"><rect class="b" width="16" height="16" rx="2"/><use href="#ext" x="4" y="4" width="8" height="8"/></g>
<g transform="translate(550,328)"><rect class="b" width="16" height="16" rx="2"/><use href="#ext" x="4" y="4" width="8" height="8"/></g>
<g transform="translate(586,260)"><rect class="b" width="16" height="16" rx="2"/><use href="#agg" x="4" y="4" width="8" height="8"/></g>
<g transform="translate(586,292)"><rect class="b" width="16" height="16" rx="2"/><use href="#agg" x="4" y="4" width="8" height="8"/></g>
<g transform="translate(586,328)"><rect class="b" width="16" height="16" rx="2"/><use href="#agg" x="4" y="4" width="8" height="8"/></g>
<g transform="translate(622,260)"><rect class="b" width="16" height="16" rx="2"/><use href="#sum" x="4" y="4" width="8" height="8"/></g>
<g transform="translate(622,292)"><rect class="b" width="16" height="16" rx="2"/><use href="#sum" x="4" y="4" width="8" height="8"/></g>
<g transform="translate(622,328)"><rect class="b" width="16" height="16" rx="2"/><use href="#sum" x="4" y="4" width="8" height="8"/></g>
<g transform="translate(649,260)"><rect class="b" width="16" height="16" rx="2"/><use href="#pen" x="4" y="4" width="8" height="8"/></g>
<g transform="translate(649,292)"><rect class="b" width="16" height="16" rx="2"/><use href="#pen" x="4" y="4" width="8" height="8"/></g>
<g transform="translate(649,328)"><rect class="b" width="16" height="16" rx="2"/><use href="#pen" x="4" y="4" width="8" height="8"/></g>
<g transform="translate(685,328)"><rect class="b" width="16" height="16" rx="2"/><use href="#pen" x="4" y="4" width="8" height="8"/></g>
<g transform="translate(685,350)"><rect class="b" width="16" height="16" rx="2"/><use href="#mrg" x="4" y="4" width="8" height="8"/></g>
<text class="l" x="558" y="280">Extract from Excel</text><text class="s" x="558" y="283">extract: from xlsx</text>
<text class="l" x="558" y="312">Extract from File</text><text class="s" x="558" y="315">extract: from csv</text>
<text class="l" x="558" y="348">Extract from File2</text><text class="s" x="558" y="351">extract: from xlsx</text>
<text class="l" x="594" y="280">Aggregate</text><text class="l" x="594" y="312">Aggregate1</text><text class="l" x="594" y="348">Aggregate2</text>
<text class="l" x="630" y="280">Summarize</text><text class="l" x="630" y="312">Summarize1</text><text class="l" x="630" y="348">Summarize2</text>
<text class="l" x="657" y="280">Edit Fields</text><text class="s" x="657" y="283">manual</text>
<text class="l" x="657" y="312">Edit Fields1</text><text class="s" x="657" y="315">manual</text>
<text class="l" x="657" y="348">Edit Fields2</text><text class="s" x="657" y="351">manual</text>
<text class="l" x="693" y="348">Join (all) data</text><text class="s" x="693" y="351">manual</text>
<text class="l" x="693" y="370">Merge</text><text class="s" x="693" y="373">append</text>
<g transform="translate(721,341)"><rect class="b" width="16" height="33" rx="2"/><use href="#swi" x="4" y="12.5" width="8" height="8"/></g>
<text class="l" x="729" y="377.5">Switch3</text><text class="s" x="729" y="380.5">mode: Rules</text>

<g transform="translate(751,281)"><rect class="b" width="38" height="16" rx="2"/><use href="#lnk" x="3" y="4" width="8" height="8"/><text class="in" x="13" y="9">Bar Chart</text></g>
<g transform="translate(751,311)"><rect class="b" width="38" height="16" rx="2"/><use href="#lnk" x="3" y="4" width="8" height="8"/><text class="in" x="13" y="9">Pie Chart</text></g>
<g transform="translate(751,342)"><rect class="b" width="38" height="16" rx="2"/><use href="#lnk" x="3" y="4" width="8" height="8"/><text class="in" x="13" y="9">Doughnut Chart</text></g>
<g transform="translate(751,375)"><rect class="b" width="38" height="16" rx="2"/><use href="#lnk" x="3" y="4" width="8" height="8"/><text class="in" x="13" y="9">Bubble Chart</text></g>
<g transform="translate(751,410)"><rect class="b" width="38" height="16" rx="2"/><use href="#lnk" x="3" y="4" width="8" height="8"/><text class="in" x="13" y="9">Line Graph</text></g>
<g class="q">
<circle cx="757" cy="298" r=".9"/><circle cx="782" cy="298" r=".9"/>
<circle cx="757" cy="328" r=".9"/><circle cx="782" cy="328" r=".9"/>
<circle cx="757" cy="359" r=".9"/><circle cx="782" cy="359" r=".9"/>
<circle cx="757" cy="392" r=".9"/><circle cx="782" cy="392" r=".9"/>
<circle cx="757" cy="427" r=".9"/><circle cx="782" cy="427" r=".9"/>
</g>
<g class="pl">
<text x="757" y="300.8">Chat Model</text><text x="782" y="300.8">Output Parser</text>
<text x="757" y="330.8">Chat Model</text><text x="782" y="330.8">Output Parser</text>
<text x="757" y="361.8">Chat Model</text><text x="782" y="361.8">Output Parser</text>
<text x="757" y="394.8">Chat Model</text><text x="782" y="394.8">Output Parser</text>
<text x="757" y="429.8">Chat Model</text><text x="782" y="429.8">Output Parser</text>
</g>
<g>
<circle cx="801" cy="304" r="5.5" fill="#ececf0" stroke="#d4d4da" stroke-width=".5"/><use href="#par" x="797.5" y="300.5" width="7" height="7"/>
<circle cx="801" cy="334" r="5.5" fill="#ececf0" stroke="#d4d4da" stroke-width=".5"/><use href="#par" x="797.5" y="330.5" width="7" height="7"/>
<circle cx="801" cy="364" r="5.5" fill="#ececf0" stroke="#d4d4da" stroke-width=".5"/><use href="#par" x="797.5" y="360.5" width="7" height="7"/>
<circle cx="801" cy="397" r="5.5" fill="#ececf0" stroke="#d4d4da" stroke-width=".5"/><use href="#par" x="797.5" y="393.5" width="7" height="7"/>
<circle cx="801" cy="435" r="5.5" fill="#ececf0" stroke="#d4d4da" stroke-width=".5"/><use href="#par" x="797.5" y="431.5" width="7" height="7"/>
</g>
<g class="l">
<text x="801" y="313.5">Structured Output</text><text x="801" y="316.3">Parser</text>
<text x="801" y="343.5">Structured Output</text><text x="801" y="346.3">Parser1</text>
<text x="801" y="373.5">Structured Output</text><text x="801" y="376.3">Parser2</text>
<text x="801" y="406.5">Structured Output</text><text x="801" y="409.3">Parser3</text>
<text x="801" y="444.5">Structured Output</text><text x="801" y="447.3">Parser4</text>
</g>
<g transform="translate(844,350)"><rect class="b" width="16" height="16" rx="2"/><use href="#pen" x="4" y="4" width="8" height="8"/></g>
<g transform="translate(877,350)"><rect class="b" width="16" height="16" rx="2"/><use href="#glb" x="4" y="4" width="8" height="8"/></g>
<g transform="translate(912,350)"><rect class="b" width="16" height="16" rx="2"/><use href="#drv" x="4" y="4" width="8" height="8"/></g>
<g transform="translate(942,350)"><rect class="b" width="16" height="16" rx="2"/><use href="#pen" x="4" y="4" width="8" height="8"/></g>
<text class="l" x="852" y="369.5">Edit Fields3</text><text class="s" x="852" y="372.5">manual</text>
<text class="l" x="885" y="369.5">HTTP Request</text><text class="s" x="885" y="372.5">GET: https://quickchart.io/ch...</text>
<text class="l" x="920" y="369.5">Upload file</text><text class="s" x="920" y="372.5">upload: file</text>
<text class="l" x="950" y="369.5">Set Title &amp; Links</text><text class="s" x="950" y="372.5">manual</text>
</svg>
</body></html>
